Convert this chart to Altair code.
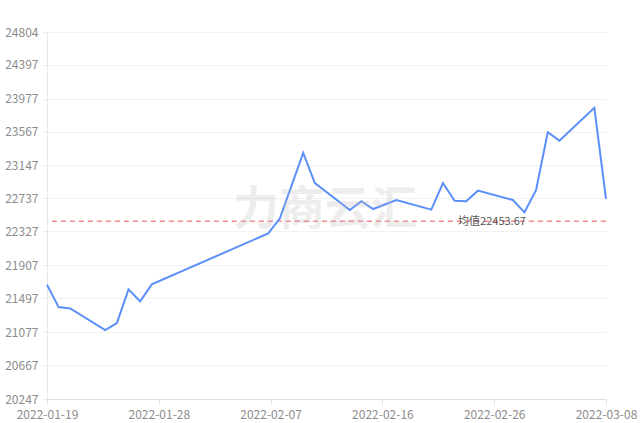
import altair as alt
import pandas as pd

dates = ["2022-01-19", "2022-01-20", "2022-01-21", "2022-01-24", "2022-01-25",
         "2022-01-26", "2022-01-27", "2022-01-28", "2022-02-07", "2022-02-08",
         "2022-02-10", "2022-02-11", "2022-02-14", "2022-02-15", "2022-02-16",
         "2022-02-18", "2022-02-21", "2022-02-22", "2022-02-23", "2022-02-24",
         "2022-02-25", "2022-02-28", "2022-03-01", "2022-03-02", "2022-03-03",
         "2022-03-04", "2022-03-07", "2022-03-08"]
prices = [21665, 21388, 21372, 21102, 21189, 21608, 21459, 21670, 22304, 22491,
          23302, 22929, 22594, 22702, 22606, 22718, 22598, 22929, 22709, 22702,
          22834, 22718, 22565, 22842, 23560, 23455, 23862, 22731]
y_ticks = [20247, 20667, 21077, 21497, 21907, 22327, 22737, 23147, 23567, 23977, 24397, 24804]
mean_value = 22453.67
mean_label = "均值22453.67"
watermark = "力商云汇"

df = pd.DataFrame({"date": [d + "T00:00:00" for d in dates], "price": prices})
mean_df = pd.DataFrame({"date": ["2022-01-19T10:00:00", "2022-03-08T00:00:00"],
                        "price": [mean_value, mean_value]})
label_df = pd.DataFrame({"date": ["2022-02-26T05:00:00"], "price": [mean_value], "label": [mean_label]})

x_ticks = [
    alt.DateTime(year=2022, month=1, date=19),
    alt.DateTime(year=2022, month=1, date=28, hours=14, minutes=24),
    alt.DateTime(year=2022, month=2, date=7, hours=4, minutes=48),
    alt.DateTime(year=2022, month=2, date=16, hours=19, minutes=12),
    alt.DateTime(year=2022, month=2, date=26, hours=9, minutes=36),
    alt.DateTime(year=2022, month=3, date=8),
]

font = "Noto Sans CJK SC"
x_scale = alt.Scale(domain=[alt.DateTime(year=2022, month=1, date=19),
                            alt.DateTime(year=2022, month=3, date=8)])
y_scale = alt.Scale(domain=[20247, 24804], nice=False, zero=False)

x_axis = alt.Axis(values=x_ticks, format="%Y-%m-%d", title=None, grid=False,
                  domainColor="#e0e0e0", tickColor="#e0e0e0", tickSize=5,
                  labelColor="#8c8c8c", labelFontSize=12, labelFont=font,
                  labelPadding=5, labelOverlap=False, labelFlush=False)
y_axis = alt.Axis(values=y_ticks, format="d", title=None,
                  gridColor="#f2f2f2", domainColor="#e8e8e8",
                  tickColor="#e8e8e8", tickSize=4,
                  labelColor="#8c8c8c", labelFontSize=12, labelFont=font,
                  labelPadding=5, labelOverlap=False, labelFlush=False,
                  labelBaseline="middle")


def xe():
    return alt.X("date:T", scale=x_scale, axis=x_axis)


def ye():
    return alt.Y("price:Q", scale=y_scale, axis=y_axis)


line = alt.Chart(df).mark_line(color="#5b8ff9", strokeWidth=2).encode(x=xe(), y=ye())

mean_line = alt.Chart(mean_df).mark_line(color="#f58a8a", strokeWidth=1.5,
                                          strokeDash=[5, 4]).encode(x=xe(), y=ye())

mean_text = alt.Chart(label_df).mark_text(font=font, fontSize=11, color="#555555",
                                          baseline="middle", align="center", dy=1).encode(
    x=xe(), y=ye(), text="label:N")

wm = alt.Chart(pd.DataFrame({"t": [watermark]})).mark_text(
    font=font, fontSize=46, fontWeight="bold", color="#bbbbbb", opacity=0.25,
    align="center", baseline="middle"
).encode(x=alt.value(278), y=alt.value(178), text="t:N")

chart = alt.layer(mean_line, line, mean_text, wm).properties(
    width=559, height=367,
    background="white",
    autosize=alt.AutoSizeParams(type="none"),
    padding={"left": 47, "top": 32, "right": 35, "bottom": 24},
).configure_view(stroke=None)

chart.save("out.html", embed_options={"renderer": "svg", "actions": False})
